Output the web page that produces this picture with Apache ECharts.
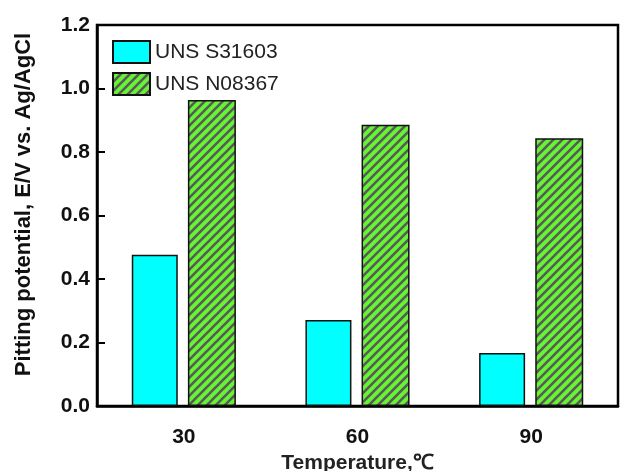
<!DOCTYPE html>
<html><head><meta charset="utf-8">
<script src="https://cdn.jsdelivr.net/npm/echarts@6/dist/echarts.min.js"></script>
<style>html,body{margin:0;padding:0;background:#fff}#c{width:620px;height:471px}</style>
</head><body><div id="c"></div>
<script>
var categories = ['30', '60', '90'];
var s31603 = [0.476, 0.271, 0.167];
var n08367 = [0.964, 0.886, 0.843];
var seriesNames = ['UNS S31603', 'UNS N08367'];

function hatch() {
  var cv = document.createElement('canvas');
  var p = 9;
  cv.width = p; cv.height = p;
  var ctx = cv.getContext('2d');
  ctx.fillStyle = '#66f533';
  ctx.fillRect(0, 0, p, p);
  ctx.strokeStyle = '#5a5a5a';
  ctx.lineWidth = 2.6;
  ctx.beginPath();
  ctx.moveTo(-1, p + 1); ctx.lineTo(p + 1, -1);
  ctx.moveTo(-p / 2 - 1, p / 2 + 1); ctx.lineTo(p / 2 + 1, -p / 2 - 1);
  ctx.moveTo(p / 2 - 1, p * 1.5 + 1); ctx.lineTo(p * 1.5 + 1, p / 2 - 1);
  ctx.stroke();
  return cv;
}

var chart = echarts.init(document.getElementById('c'));
chart.setOption({
  animation: false,
  grid: { left: 97, right: 2, top: 25, bottom: 65, containLabel: false, outerBoundsMode: 'none',
    show: true, borderColor: '#000', borderWidth: 2.5 },
  legend: {
    orient: 'vertical', left: 112, top: 40, padding: 0, itemWidth: 37, itemHeight: 22, itemGap: 8,
    textStyle: { fontFamily: 'Liberation Sans, Arial', fontSize: 21, color: '#222' },
    icon: 'rect'
  },
  xAxis: {
    type: 'category', data: categories,
    axisLine: { lineStyle: { color: '#000', width: 2.5 } },
    axisTick: { show: false },
    axisLabel: { margin: 21, fontFamily: 'Liberation Sans, Arial', fontWeight: 'bold', fontSize: 21, color: '#111' },
    name: 'Temperature,\u2103', nameLocation: 'middle', nameGap: 36,
    nameTextStyle: { fontFamily: 'Liberation Sans, Arial', fontWeight: 'bold', fontSize: 21, color: '#222' }
  },
  yAxis: {
    type: 'value', min: 0, max: 1.2, interval: 0.2,
    axisLine: { show: true, lineStyle: { color: '#000', width: 2.5 } },
    axisTick: { show: true, inside: true, length: 8, lineStyle: { color: '#000', width: 2 } },
    splitLine: { show: false },
    axisLabel: { margin: 7, fontFamily: 'Liberation Sans, Arial', fontWeight: 'bold', fontSize: 21, color: '#111',
      formatter: function (v) { return v.toFixed(1); } },
    name: 'Pitting potential, E/V vs. Ag/AgCl', nameLocation: 'middle', nameGap: 62,
    nameTextStyle: { fontFamily: 'Liberation Sans, Arial', fontWeight: 'bold', fontSize: 22, color: '#111',
      padding: [0, 0, 0, 22] }
  },
  series: [
    { name: seriesNames[0], type: 'bar', data: s31603, barWidth: 46, barGap: '22%',
      itemStyle: { color: '#00ffff', borderColor: '#111', borderWidth: 1.5 } },
    { name: seriesNames[1], type: 'bar', data: n08367, barWidth: 48,
      itemStyle: { color: { image: hatch(), repeat: 'repeat' }, borderColor: '#111', borderWidth: 1.5 } }
  ]
});
</script></body></html>
